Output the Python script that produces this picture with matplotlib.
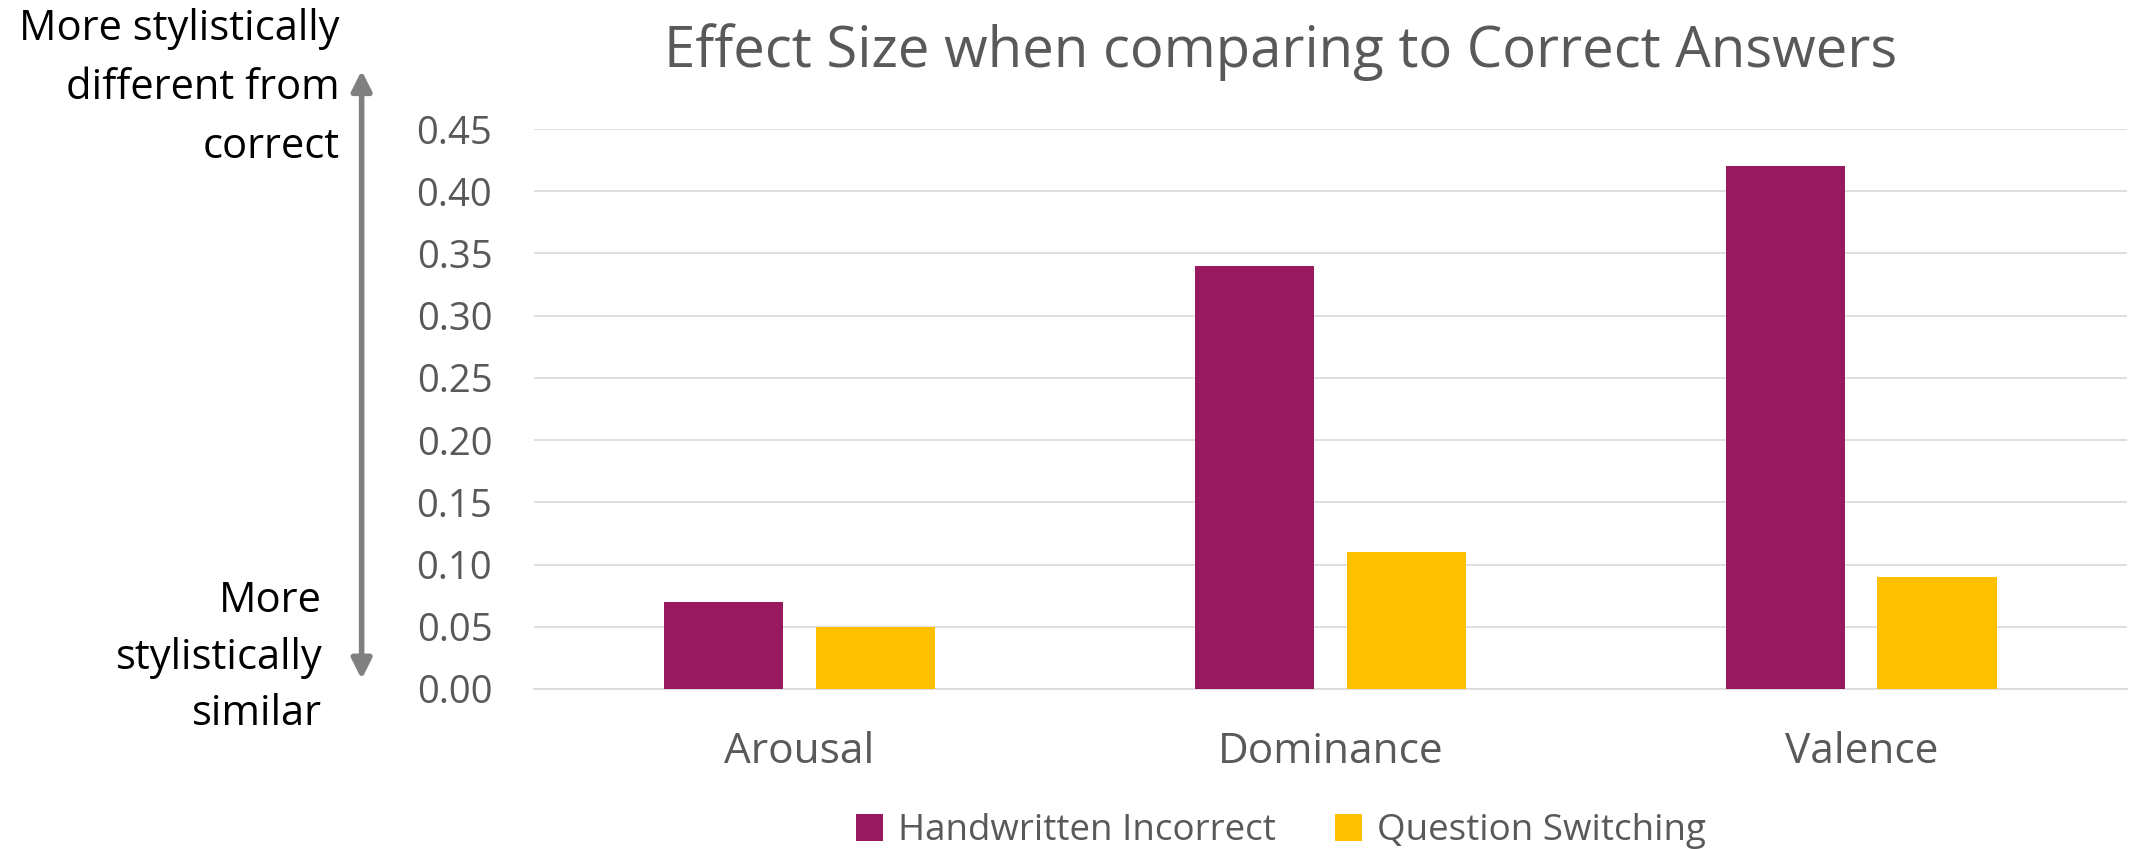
import matplotlib
matplotlib.use("Agg")
from matplotlib import pyplot as plt
import numpy as np

categories = ["Arousal", "Dominance", "Valence"]
handwritten = [0.07, 0.34, 0.42]
switching = [0.05, 0.11, 0.09]
series_names = ["Handwritten Incorrect", "Question Switching"]
yticks = [0.00, 0.05, 0.10, 0.15, 0.20, 0.25, 0.30, 0.35, 0.40, 0.45]
top_note = ["More stylistically", "different from", "correct"]
bottom_note = ["More", "stylistically", "similar"]

purple = "#99195E"
yellow = "#FFC000"
grey_txt = "#595959"
grid_c = "#D9D9D9"

plt.rcParams["font.family"] = ["Open Sans", "DejaVu Sans"]

fig = plt.figure(figsize=(21.31, 8.49), dpi=100)
ax = fig.add_axes([0.2506, 0.1885, 0.7474, 0.6595])

x = np.arange(len(categories))
w = 0.225
off = 0.143
ax.bar(x - off, handwritten, w, color=purple, label=series_names[0], zorder=3)
ax.bar(x + off, switching, w, color=yellow, label=series_names[1], zorder=3)

ax.set_xlim(-0.5, len(categories) - 0.5)
ax.set_ylim(0, 0.45)
ax.set_yticks(yticks)
ax.set_yticklabels(["%.2f" % v for v in yticks])
ax.set_xticks(x)
ax.set_xticklabels(categories)
ax.yaxis.grid(True, color=grid_c, lw=1.2, zorder=0)
ax.set_axisbelow(True)
for s in ["top", "right", "left"]:
    ax.spines[s].set_visible(False)
ax.spines["bottom"].set_color(grid_c)
ax.spines["bottom"].set_linewidth(1.2)
ax.tick_params(axis="both", length=0, colors=grey_txt)
ax.tick_params(axis="y", labelsize=27.5, pad=30)
ax.tick_params(axis="x", labelsize=30.5, pad=30)

fig.text(0.601, 0.939, "Effect Size when comparing to Correct Answers",
         ha="center", va="center", fontsize=40.5, color=grey_txt)

# side notes
for i, t in enumerate(top_note):
    fig.text(0.1595, 0.966 - i * 0.0695, t, ha="right", va="center", fontsize=30, color="black")
for i, t in enumerate(bottom_note):
    fig.text(0.1512, 0.292 - i * 0.0666, t, ha="right", va="center", fontsize=30, color="black")

ax.annotate("", xy=(0.1697, 0.917), xytext=(0.1697, 0.20),
            xycoords="figure fraction", textcoords="figure fraction",
            arrowprops=dict(arrowstyle="<|-|>", color="#808080", lw=4,
                            mutation_scale=30, shrinkA=0, shrinkB=0))

fig.legend(loc="center", bbox_to_anchor=(0.601, 0.021), ncol=2, frameon=False,
           fontsize=26.5, handlelength=0.75, handleheight=0.75, handletextpad=0.4,
           columnspacing=1.6, labelcolor=grey_txt)

fig.savefig("out.png", dpi=100)
